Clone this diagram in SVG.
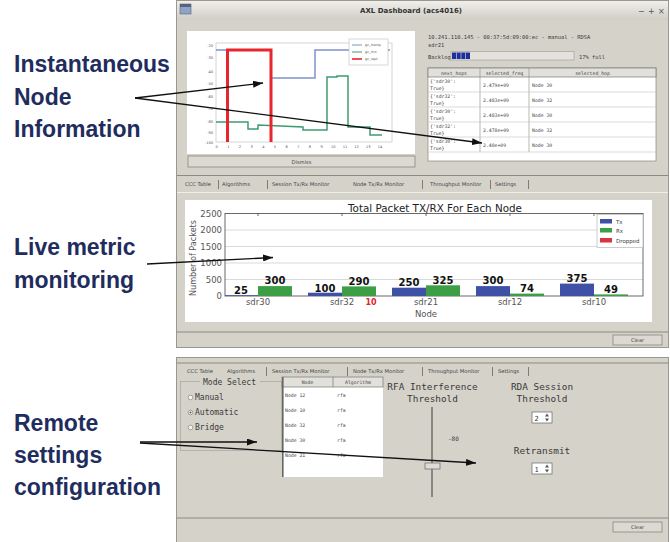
<svg xmlns="http://www.w3.org/2000/svg" width="670" height="542" viewBox="0 0 670 542">
<defs>
<style>
.lbl{font-family:"Liberation Sans",Arial,sans-serif;font-weight:bold;font-size:23px;fill:#1f2d5e}
.win{fill:#d5d2ca;stroke:#9a978f;stroke-width:1}
.mono{font-family:"DejaVu Sans Mono","Liberation Mono",monospace;fill:#3a3a3a}
.tab{font-family:"DejaVu Sans",sans-serif;font-size:5.2px;fill:#444}
.sep{stroke:#666;stroke-width:0.8}
.conn{stroke:#111;stroke-width:1.3;fill:none;marker-end:url(#ah)}
.val{font-family:"DejaVu Sans",sans-serif;font-weight:bold;font-size:10px;fill:#111;text-anchor:middle}
.ax{font-family:"DejaVu Sans",sans-serif;font-size:8.5px;fill:#555}
.grid{stroke:#cfcfcf;stroke-width:0.8}
.tx{fill:#3f51a6}
.rx{fill:#3c9f46}
.cell{font-family:"DejaVu Sans Mono",monospace;font-size:4.8px;fill:#444}
.btn{fill:#dcd9d2;stroke:#8a877f;stroke-width:0.8}
</style>
<linearGradient id="tb" x1="0" y1="0" x2="0" y2="1">
<stop offset="0" stop-color="#f0efeb"/>
<stop offset="1" stop-color="#d0cdc5"/>
</linearGradient>
<marker id="ah" viewBox="0 0 10 7" refX="10" refY="3.5" markerWidth="10" markerHeight="7" markerUnits="userSpaceOnUse" orient="auto">
<path d="M0,0 L10,3.5 L0,7 z" fill="#111"/>
</marker>
</defs>

<rect width="670" height="542" fill="#ffffff"/>

<!-- dashboard window: live plot, next-hop table and packet chart -->
<g id="dashboard">
<rect class="win" x="176.5" y="0.5" width="492" height="347"/>
<rect x="177" y="1" width="491" height="19" fill="url(#tb)"/>
<rect x="180" y="4" width="11" height="10" fill="#8fa3c4" stroke="#55637d" stroke-width="0.6"/>
<rect x="180" y="4" width="11" height="3" fill="#55637d"/>
<text x="411" y="13" text-anchor="middle" font-family="DejaVu Sans,sans-serif" font-weight="bold" font-size="7px" fill="#333" textLength="102" lengthAdjust="spacingAndGlyphs">AXL Dashboard (acs4016)</text>
<text x="638" y="14" font-family="DejaVu Sans,sans-serif" font-size="8px" fill="#555">−</text>
<text x="648" y="14" font-family="DejaVu Sans,sans-serif" font-size="8px" fill="#555">+</text>
<text x="658" y="14" font-family="DejaVu Sans,sans-serif" font-size="8px" fill="#555">×</text>

<!-- signal plot -->
<g id="signal-plot">
<rect x="187" y="31" width="228" height="123" fill="#ffffff"/>
<rect x="216" y="43" width="176" height="99" fill="none" stroke="#c4c4c4" stroke-width="0.7"/>
<g font-family="DejaVu Sans,sans-serif" font-size="3.6px" fill="#555" text-anchor="end">
<text x="213" y="47">-20</text><text x="213" y="59">-30</text><text x="213" y="73">-40</text>
<text x="213" y="85">-50</text><text x="213" y="98">-60</text><text x="213" y="110">-70</text>
<text x="213" y="123">-80</text><text x="213" y="134">-90</text><text x="213" y="144">-100</text>
</g>
<g font-family="DejaVu Sans,sans-serif" font-size="3.6px" fill="#555" text-anchor="middle">
<text x="216.7" y="148">0</text><text x="228.4" y="148">1</text><text x="240" y="148">2</text>
<text x="251.7" y="148">3</text><text x="263.3" y="148">4</text><text x="275" y="148">5</text>
<text x="286.7" y="148">6</text><text x="298.3" y="148">7</text><text x="310" y="148">8</text>
<text x="321.6" y="148">9</text><text x="333.3" y="148">10</text><text x="345" y="148">11</text>
<text x="356.6" y="148">12</text><text x="368.3" y="148">13</text><text x="380" y="148">14</text>
</g>
<path d="M216,50 H271 V78 H315 V50 H390" fill="none" stroke="#7f93c9" stroke-width="1.5"/>
<path d="M216,122 H248 V129 H258 V125 L303,127 V130 H327 V77 H337 V76 H348 V127 H370 V135 H382" fill="none" stroke="#3f9a72" stroke-width="1.5"/>
<path d="M227.5,142 V50 H271 V142" fill="none" stroke="#e8262b" stroke-width="3"/>
<rect x="349" y="39" width="39" height="26" fill="#ffffff" stroke="#bdbdbd" stroke-width="0.6"/>
<line x1="352" y1="45" x2="362" y2="45" stroke="#7f93c9" stroke-width="1"/>
<line x1="352" y1="52" x2="362" y2="52" stroke="#3f9a72" stroke-width="1"/>
<line x1="352" y1="59" x2="362" y2="59" stroke="#e8262b" stroke-width="1.6"/>
<g font-family="DejaVu Sans,sans-serif" font-size="3.4px" fill="#555">
<text x="365" y="46.2">gc_rtemp</text><text x="365" y="53.2">gc_rtrx</text><text x="365" y="60.2">gc_rept</text>
</g>
<rect class="btn" x="188" y="156" width="227" height="11"/>
<text x="301.5" y="163.8" text-anchor="middle" font-family="DejaVu Sans,sans-serif" font-size="5.2px" fill="#444">Dismiss</text>
</g>

<!-- status and next-hop table -->
<g id="hop-table">
<text class="mono" x="428" y="39" font-size="5.4px">10.241.110.145 - 00:37:5d:09:00:ec - manual - RDSA</text>
<text class="mono" x="428" y="47" font-size="5.4px">sdr21</text>
<text class="mono" x="428" y="58.5" font-size="5.4px">Backlog</text>
<rect x="451" y="51.5" width="123" height="8.5" fill="#e4e2dc" stroke="#9c9a94" stroke-width="0.6"/>
<rect x="452" y="52.5" width="18" height="6.5" fill="#1e2f9a"/>
<g stroke="#c8cdea" stroke-width="0.7"><line x1="456.5" y1="52.5" x2="456.5" y2="59"/><line x1="461" y1="52.5" x2="461" y2="59"/><line x1="465.5" y1="52.5" x2="465.5" y2="59"/></g>
<text class="mono" x="579" y="58.5" font-size="5.4px">17% full</text>
<rect x="428" y="68" width="228" height="93" fill="#ffffff" stroke="#8b8880" stroke-width="0.7"/>
<rect x="428" y="68" width="228" height="9" fill="#e2e0da" stroke="#777" stroke-width="0.7"/>
<g stroke="#888" stroke-width="0.6"><line x1="480" y1="68" x2="480" y2="152"/><line x1="529" y1="68" x2="529" y2="152"/></g>
<g stroke="#c4c4c4" stroke-width="0.6">
<line x1="428" y1="92" x2="656" y2="92"/><line x1="428" y1="107" x2="656" y2="107"/>
<line x1="428" y1="122" x2="656" y2="122"/><line x1="428" y1="137" x2="656" y2="137"/>
<line x1="428" y1="152" x2="656" y2="152"/>
</g>
<g class="cell" text-anchor="middle"><text x="454" y="74.5">next_hops</text><text x="504.5" y="74.5">selected_freq</text><text x="592.5" y="74.5">selected_hop</text></g>
<g class="cell">
<text x="430" y="83">{'sdr30':</text><text x="430" y="89.5">True}</text><text x="483" y="86.5">2.479e+09</text><text x="532" y="86.5">Node 30</text>
<text x="430" y="98">{'sdr32':</text><text x="430" y="104.5">True}</text><text x="483" y="101.5">2.483e+09</text><text x="532" y="101.5">Node 32</text>
<text x="430" y="113">{'sdr30':</text><text x="430" y="119.5">True}</text><text x="483" y="116.5">2.483e+09</text><text x="532" y="116.5">Node 30</text>
<text x="430" y="128">{'sdr32':</text><text x="430" y="134.5">True}</text><text x="483" y="131.5">2.478e+09</text><text x="532" y="131.5">Node 32</text>
<text x="430" y="143">{'sdr30':</text><text x="430" y="149.5">True}</text><text x="483" y="146.5">2.48e+09</text><text x="532" y="146.5">Node 30</text>
</g>
</g>

<!-- tab bar -->
<g id="tabs-monitor">
<line x1="177" y1="175.5" x2="668" y2="175.5" stroke="#8d8a83" stroke-width="1"/>
<g class="tab">
<text x="185" y="186">CCC Table</text><text x="222" y="186">Algorithms</text>
<text x="272" y="186">Session Tx/Rx Monitor</text><text x="353" y="186">Node Tx/Rx Monitor</text>
<text x="430" y="186">Throughput Monitor</text><text x="495" y="186">Settings</text>
</g>
<g class="sep"><line x1="218.5" y1="180" x2="218.5" y2="189"/><line x1="267.5" y1="180" x2="267.5" y2="189"/><line x1="422.5" y1="180" x2="422.5" y2="189"/><line x1="490.5" y1="180" x2="490.5" y2="189"/><line x1="528.5" y1="180" x2="528.5" y2="189"/></g>
<line x1="177" y1="192.5" x2="668" y2="192.5" stroke="#efeee9" stroke-width="1"/>
</g>

<!-- packet chart -->
<g id="packet-chart">
<rect x="185" y="200" width="467" height="122" fill="#ffffff"/>
<text x="435" y="211.5" text-anchor="middle" font-family="DejaVu Sans,sans-serif" font-size="10px" fill="#222" textLength="174" lengthAdjust="spacingAndGlyphs">Total Packet TX/RX For Each Node</text>
<g class="grid"><line x1="225" y1="279.5" x2="643" y2="279.5"/><line x1="225" y1="263" x2="643" y2="263"/><line x1="225" y1="246.5" x2="643" y2="246.5"/><line x1="225" y1="230" x2="643" y2="230"/></g>
<rect x="225" y="213.5" width="418" height="82.5" fill="none" stroke="#444" stroke-width="0.8"/>
<g stroke="#444" stroke-width="0.8"><line x1="258" y1="213.5" x2="258" y2="216"/><line x1="342" y1="213.5" x2="342" y2="216"/><line x1="426" y1="213.5" x2="426" y2="216"/><line x1="510" y1="213.5" x2="510" y2="216"/><line x1="594" y1="213.5" x2="594" y2="216"/></g>
<g class="ax" text-anchor="end">
<text x="222" y="299">0</text><text x="222" y="282.5">500</text><text x="222" y="266">1000</text>
<text x="222" y="249.5">1500</text><text x="222" y="233">2000</text><text x="222" y="216.5">2500</text>
</g>
<text class="ax" transform="translate(196,258) rotate(-90)" text-anchor="middle" font-size="8px" textLength="76" lengthAdjust="spacingAndGlyphs">Number of Packets</text>
<rect class="tx" x="225" y="295.2" width="33" height="0.8"/>
<rect class="rx" x="258" y="286.1" width="34" height="9.9"/>
<rect class="tx" x="308" y="292.7" width="34" height="3.3"/>
<rect class="rx" x="342" y="286.4" width="34" height="9.6"/>
<rect class="tx" x="392" y="287.7" width="34" height="8.3"/>
<rect class="rx" x="426" y="285.3" width="34" height="10.7"/>
<rect class="tx" x="476" y="286.1" width="34" height="9.9"/>
<rect class="rx" x="510" y="293.6" width="34" height="2.4"/>
<rect class="tx" x="560" y="283.6" width="34" height="12.4"/>
<rect class="rx" x="594" y="294.4" width="34" height="1.6"/>
<g class="val">
<text x="241" y="293.5">25</text><text x="275" y="284">300</text>
<text x="325" y="291.5">100</text><text x="359" y="284.5">290</text>
<text x="409" y="286">250</text><text x="443" y="283.5">325</text>
<text x="493" y="284">300</text><text x="527" y="291.5">74</text>
<text x="577" y="281.5">375</text><text x="611" y="292.5">49</text>
</g>
<text x="371" y="305" text-anchor="middle" font-family="DejaVu Sans,sans-serif" font-weight="bold" font-size="8px" fill="#e0262b">10</text>
<g class="ax" text-anchor="middle">
<text x="258" y="305">sdr30</text><text x="342" y="305">sdr32</text><text x="426" y="305">sdr21</text>
<text x="510" y="305">sdr12</text><text x="594" y="305">sdr10</text>
<text x="426" y="317">Node</text>
</g>
<rect x="597" y="214.5" width="46" height="33" fill="#ffffff" stroke="#aaa" stroke-width="0.6"/>
<rect class="tx" x="600" y="219" width="12" height="4.5"/>
<rect class="rx" x="600" y="228" width="12" height="4.5"/>
<rect x="600" y="238" width="12" height="4.5" fill="#d9343f"/>
<g font-family="DejaVu Sans,sans-serif" font-size="5.5px" fill="#444">
<text x="616" y="223.5">Tx</text><text x="616" y="232.5">Rx</text><text x="616" y="242.5">Dropped</text>
</g>
<line x1="177" y1="332" x2="668" y2="332" stroke="#8d8a83" stroke-width="1.2"/>
<rect class="btn" x="613" y="335" width="49" height="10"/>
<text x="637.5" y="342" text-anchor="middle" font-family="DejaVu Sans,sans-serif" font-size="5px" fill="#444">Clear</text>
</g>
</g>

<!-- algorithms settings window -->
<g id="settings">
<rect class="win" x="176.5" y="357.5" width="492" height="185"/>
<line x1="177" y1="363" x2="668" y2="363" stroke="#8d8a83" stroke-width="1"/>
<g class="tab">
<text x="187" y="373">CCC Table</text><text x="227" y="373">Algorithms</text>
<text x="272" y="373">Session Tx/Rx Monitor</text><text x="353" y="373">Node Tx/Rx Monitor</text>
<text x="428" y="373">Throughput Monitor</text><text x="498" y="373">Settings</text>
</g>
<g class="sep"><line x1="266.5" y1="367" x2="266.5" y2="376"/><line x1="347.5" y1="367" x2="347.5" y2="376"/><line x1="422.5" y1="367" x2="422.5" y2="376"/><line x1="492.5" y1="367" x2="492.5" y2="376"/><line x1="528.5" y1="367" x2="528.5" y2="376"/></g>

<g id="mode-select">
<rect x="180.5" y="381.5" width="101" height="69" fill="none" stroke="#aeaba3" stroke-width="0.8"/>
<rect x="200" y="377" width="60" height="8" fill="#d5d2ca"/>
<text class="mono" x="203" y="384.5" font-size="8px">Mode Select</text>
<circle cx="190.5" cy="397.5" r="2.3" fill="#f4f4f4" stroke="#777" stroke-width="0.6"/>
<circle cx="190.5" cy="412.5" r="2.3" fill="#f4f4f4" stroke="#777" stroke-width="0.6"/>
<circle cx="190.5" cy="412.5" r="1" fill="#555"/>
<circle cx="190.5" cy="427.5" r="2.3" fill="#f4f4f4" stroke="#777" stroke-width="0.6"/>
<text class="mono" x="195" y="400" font-size="8px">Manual</text>
<text class="mono" x="195" y="415" font-size="8px">Automatic</text>
<text class="mono" x="195" y="430" font-size="8px">Bridge</text>
</g>

<g id="algorithm-table">
<rect x="282" y="377" width="101" height="100" fill="#ffffff"/>
<rect x="282" y="377" width="101" height="10" fill="#e2e0da" stroke="#777" stroke-width="0.7"/>
<line x1="333" y1="377" x2="333" y2="387" stroke="#777" stroke-width="0.7"/>
<line x1="282.8" y1="377" x2="282.8" y2="477" stroke="#666" stroke-width="1.6"/>
<g class="cell" text-anchor="middle"><text x="307.5" y="383.8">Node</text><text x="358" y="383.8">Algorithm</text></g>
<g class="cell">
<text x="285" y="396.5">Node 12</text><text x="337" y="396.5">rfa</text>
<text x="285" y="411.5">Node 10</text><text x="337" y="411.5">rfa</text>
<text x="285" y="426.5">Node 32</text><text x="337" y="426.5">rfa</text>
<text x="285" y="441.5">Node 30</text><text x="337" y="441.5">rfa</text>
<text x="285" y="457">Node 21</text><text x="337" y="457">rfa</text>
</g>
</g>

<g id="rfa-threshold">
<text class="mono" x="432.5" y="390" text-anchor="middle" font-size="9.4px">RFA Interference</text>
<text class="mono" x="432.5" y="402" text-anchor="middle" font-size="9.4px">Threshold</text>
<line x1="432" y1="407" x2="432" y2="497" stroke="#555" stroke-width="1.2"/>
<rect x="425" y="463" width="15" height="6" fill="#dedcd6" stroke="#666" stroke-width="0.7"/>
<text class="mono" x="448" y="441" font-size="6px">-80</text>
</g>

<g id="rda-threshold">
<text class="mono" x="542" y="390" text-anchor="middle" font-size="9.4px">RDA Session</text>
<text class="mono" x="542" y="402" text-anchor="middle" font-size="9.4px">Threshold</text>
<rect x="532" y="412" width="20" height="11" fill="#ffffff" stroke="#666" stroke-width="0.7"/>
<text class="mono" x="534.5" y="420.5" font-size="7px">2</text>
<path d="M545,416.5 L547,413.5 L549,416.5 z M545,418.5 L547,421.5 L549,418.5 z" fill="#555"/>
</g>

<g id="retransmit">
<text class="mono" x="542" y="454" text-anchor="middle" font-size="9.4px">Retransmit</text>
<rect x="532" y="463" width="20" height="11" fill="#ffffff" stroke="#666" stroke-width="0.7"/>
<text class="mono" x="534.5" y="471.5" font-size="7px">1</text>
<path d="M545,467.5 L547,464.5 L549,467.5 z M545,469.5 L547,472.5 L549,469.5 z" fill="#555"/>
</g>

<line x1="177" y1="518" x2="668" y2="518" stroke="#8d8a83" stroke-width="1.2"/>
<rect class="btn" x="613" y="522" width="49" height="10"/>
<text x="637.5" y="529" text-anchor="middle" font-family="DejaVu Sans,sans-serif" font-size="5px" fill="#444">Clear</text>
</g>

<!-- callout labels -->
<g id="label-node-info">
<text class="lbl" x="14" y="72">Instantaneous</text>
<text class="lbl" x="14" y="105">Node</text>
<text class="lbl" x="14" y="137">Information</text>
</g>
<g id="label-live-metric">
<text class="lbl" x="14" y="255">Live metric</text>
<text class="lbl" x="14" y="288">monitoring</text>
</g>
<g id="label-remote">
<text class="lbl" x="14" y="431">Remote</text>
<text class="lbl" x="14" y="463">settings</text>
<text class="lbl" x="14" y="495">configuration</text>
</g>

<!-- callout arrows -->
<g id="connectors">
<line class="conn" x1="135" y1="98" x2="263" y2="83"/>
<line class="conn" x1="135" y1="98" x2="482" y2="143"/>
<line class="conn" x1="147" y1="264" x2="273" y2="257.5"/>
<line class="conn" x1="140" y1="442" x2="257" y2="442"/>
<line class="conn" x1="140" y1="443" x2="476" y2="463"/>
</g>
</svg>
